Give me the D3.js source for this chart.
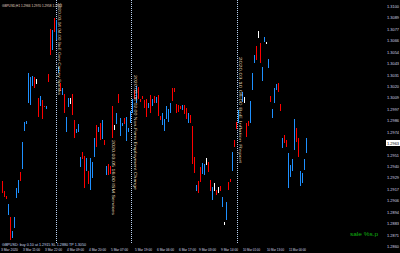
<!DOCTYPE html>
<html>
<head>
<meta charset="utf-8">
<script src="https://cdn.jsdelivr.net/npm/d3@7"></script>
<style>
  html, body { margin: 0; padding: 0; background: #000; }
  svg { display: block; }
  text { font-family: "Liberation Sans", Arial, sans-serif; }
</style>
</head>
<body>
<svg id="chart"></svg>
<script>
// prices in 1e-4 units (pips)
var barHigh = [
  12925,12915,12910,12902,12889,12875,12889,12918,12926,12934,
  12964,12984,12985,13033,13029,13030,13029,13027,13008,13010,
  13006,13000,13000,13032,13077,13076,13088,13086,13039,13023,
  13018,13012,12989,13008,13008,13012,12986,12977,12982,12949,
  12954,12950,12948,12935,12948,12944,12968,12981,12979,12983,
  12986,12966,12940,12942,12940,13000,12981,12993,13012,12988,
  12983,12988,12989,12978,12995,13007,13016,13020,13019,13007,
  13010,13006,13007,13003,13011,13007,13010,13009,13011,12990,
  12993,12987,13000,12997,13003,13018,13018,13002,13001,13000,
  13001,13001,12998,12993,12991,12980,12949,12921,12925,12939,
  12943,12942,12948,12944,12926,12919,12923,12916,12919,12920,
  12909,12884,12904,12924,12927,12954,12966,12984,12996,13014,
  13009,12983,12985,13005,13033,13051,13060,13075,13063,13039,
  13069,13064,13047,13010,12997,13018,13022,13023,13002,12968,
  12971,12966,12953,12941,12947,12987,12978,12968,12935,12933,
  12947,12968
]
var barLow = [
  12913,12909,12907,12891,12866,12868,12878,12908,12913,12925,
  12937,12975,12982,13003,13001,13020,13018,13022,12989,13000,
  12987,12999,12997,13024,13051,13056,13074,13066,13033,13015,
  13011,12993,12974,12999,13002,12991,12968,12973,12974,12939,
  12947,12918,12935,12922,12916,12928,12949,12959,12974,12966,
  12967,12961,12931,12931,12932,12968,12976,12982,13003,12970,
  12980,12982,12965,12974,12983,12993,13007,13003,13007,13004,
  13007,12998,12989,12998,12993,13000,13003,13003,12990,12986,
  12981,12975,12987,12984,12993,13005,13014,12993,12994,12997,
  12996,12992,12987,12983,12983,12942,12933,12915,12913,12924,
  12932,12931,12941,12934,12915,12906,12915,12911,12913,12915,
  12899,12881,12886,12916,12924,12935,12959,12977,12983,13004,
  13003,12969,12980,12983,13016,13043,13046,13068,13043,13025,
  13064,13062,13038,13004,12988,13003,13016,13014,12995,12958,
  12963,12959,12918,12929,12935,12956,12964,12949,12920,12923,
  12936,12953
]
// 1 = up (blue), -1 = down (red), 0 = doji (white)
var barDir = [
  -1,-1,-1, 1,-1, 1, 1, 1, 1,-1,
   1, 1, 1, 1, 1, 1,-1, 0,-1, 1,
  -1,-1, 1,-1,-1, 1,-1, 1, 1,-1,
   1,-1, 1, 1, 0,-1,-1, 1, 1, 1,
  -1,-1, 1,-1, 1, 1, 1,-1, 1,-1,
   1,-1, 1,-1,-1,-1, 0, 1,-1, 1,
   1,-1, 1, 1, 1, 1,-1, 1,-1,-1,
  -1,-1,-1, 1,-1, 1,-1, 1,-1,-1,
   1, 1, 1, 1, 1,-1,-1,-1,-1,-1,
   1,-1,-1, 1,-1,-1,-1, 1,-1,-1,
   1, 1, 0,-1,-1, 1, 0,-1, 0,-1,
   1, 0, 1,-1,-1, 1,-1,-1, 1, 1,
   0,-1,-1, 1, 1, 1,-1, 0,-1, 1,
   1, 0, 1,-1, 1, 1, 1,-1,-1, 1,
  -1,-1, 1, 1, 1, 1,-1,-1, 1, 1,
   1, 1
]
var gapAfter = 118   // one missing bar right after the third separator

var priceTicks = [13100,13089,13077,13066,13054,13043,13031,13020,13009,12997,12986,
                  12974,12963,12951,12940,12929,12917,12906,12894,12883,12871,12860]
var lastPrice = 12963

var dateTicks = [0, 11, 22, 33, 44, 55, 67, 78, 89, 99, 110, 121, 133, 144]
var dateLabels = ["3 Mar 2020", "3 Mar 11:00", "3 Mar 22:00", "4 Mar 09:00", "4 Mar 20:00",
                  "5 Mar 07:00", "5 Mar 19:00", "6 Mar 06:00", "6 Mar 17:00", "9 Mar 03:00",
                  "9 Mar 14:00", "10 Mar 01:00", "10 Mar 13:00", "11 Mar 00:00"]

var separators = [27, 64.5, 117.5]
var vlineNotes = [
  {t: 27.6, top: 3, len: 92, text: "2020.03.04 04:00  BoE Gov Carney Speaks"},
  {t: 54.6, top: 140, len: 75, text: "2020.03.05 16:00  ISM Services"},
  {t: 65.4, top: 75, len: 115, text: "2020.03.06 02:00  Non-Farm Employment Change"},
  {t: 117.8, top: 57, len: 106, text: "2020.03.10 08:00  BoE Inflation Report"}
]

var width = 400,
    height = 253,
    colors = {"1": "#1e90ff", "-1": "#ff0000", "0": "#ffffff"},
    svg = d3.select("#chart")
      .attr("width", width)
      .attr("height", height)
      .style("background", "#000")

var x = d3.scaleLinear().domain([0, 153]).range([2, 308]),
    y = d3.scaleLinear().domain([13100, 12860]).range([6, 246])

var bars = barHigh.map((h, i) => ({
  t: i > gapAfter ? i + 1 : i,
  high: h,
  low: barLow[i],
  dir: barDir[i]
}))

// dotted period separators
svg.append("g")
  .selectAll("line")
    .data(separators)
    .enter().append("line")
      .attr("x1", (d) => Math.round(x(d)) + 0.5)
      .attr("x2", (d) => Math.round(x(d)) + 0.5)
      .attr("y1", 0)
      .attr("y2", 243)
      .attr("stroke", "#b8d0f0")
      .attr("stroke-width", 1)
      .attr("stroke-dasharray", "1,1")

svg.append("g")
  .selectAll("rect")
    .data(bars)
    .enter().append("rect")
      .attr("x", (d) => Math.round(x(d.t)))
      .attr("y", (d) => Math.round(y(d.high)))
      .attr("width", 1)
      .attr("height", (d) => Math.max(1, Math.round(y(d.low) - y(d.high))))
      .attr("fill", (d) => colors[d.dir])

// vertical line descriptions
svg.append("g")
  .selectAll("text")
    .data(vlineNotes)
    .enter().append("text")
      .attr("transform", (d) => `translate(${Math.round(x(d.t)) + 1},${d.top}) rotate(90)`)
      .attr("font-size", 3.8)
      .attr("textLength", (d) => d.len)
      .attr("lengthAdjust", "spacingAndGlyphs")
      .attr("fill", "#e6dcbc")
      .text((d) => d.text)

// price scale
var py = svg.append("g").attr("class", "price-axis")
py.selectAll("text")
  .data(priceTicks)
  .enter().append("text")
    .attr("x", 399)
    .attr("y", (d) => y(d) + 1.5)
    .attr("text-anchor", "end")
    .attr("font-size", 4)
    .attr("textLength", 12)
    .attr("lengthAdjust", "spacingAndGlyphs")
    .attr("fill", (d) => d === lastPrice ? "#000" : "#cfd6e6")
    .text((d) => (d / 1e4).toFixed(4))
py.insert("rect", "text")
  .attr("x", 386)
  .attr("y", Math.round(y(lastPrice)) - 3)
  .attr("width", 14)
  .attr("height", 6)
  .attr("fill", "#fff")

// time scale
svg.append("g")
  .selectAll("text")
    .data(dateTicks)
    .enter().append("text")
      .attr("x", (d) => x(d) - 1)
      .attr("y", 251)
      .attr("font-size", 3.8)
      .attr("textLength", 17)
      .attr("lengthAdjust", "spacingAndGlyphs")
      .attr("fill", "#d8dce8")
      .text((d, i) => dateLabels[i])

svg.append("text")
  .attr("x", 2)
  .attr("y", 7)
  .attr("font-size", 3.8)
  .attr("textLength", 60)
  .attr("lengthAdjust", "spacingAndGlyphs")
  .attr("fill", "#e0d6c0")
  .text("GBPUSD,H1  1.2966 1.2970 1.2958 1.2963")

svg.append("text")
  .attr("x", 2)
  .attr("y", 246)
  .attr("font-size", 3.8)
  .attr("textLength", 84)
  .attr("lengthAdjust", "spacingAndGlyphs")
  .attr("fill", "#c8d6f0")
  .text("GBPUSD: buy 0.10 at 1.2915  SL 1.2880  TP 1.3050")

svg.append("text")
  .attr("x", 350)
  .attr("y", 236)
  .attr("font-size", 6)
  .attr("textLength", 28)
  .attr("lengthAdjust", "spacingAndGlyphs")
  .attr("fill", "#10b010")
  .text("sale %s.p")
</script>
</body>
</html>
